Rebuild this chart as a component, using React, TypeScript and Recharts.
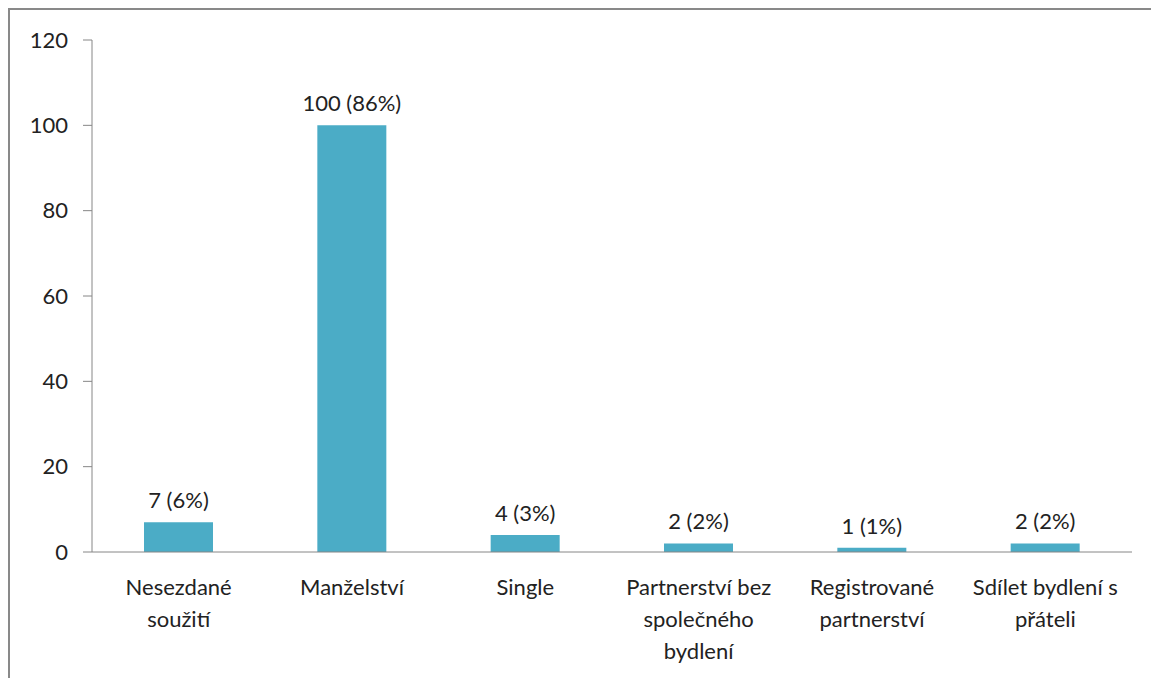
import { BarChart, Bar, XAxis, YAxis, LabelList } from 'recharts'

const categories = [
  'Nesezdané\nsoužití',
  'Manželství',
  'Single',
  'Partnerství bez\nspolečného\nbydlení',
  'Registrované\npartnerství',
  'Sdílet bydlení s\npřáteli',
]
const counts = [7, 100, 4, 2, 1, 2]
const percents = [6, 86, 3, 2, 1, 2]
const yTicks = [0, 20, 40, 60, 80, 100, 120]
const boundaryTicks = [0, 1, 2, 3, 4, 5, 6]

const data = categories.map((name, i) => ({
  name,
  count: counts[i],
  label: `${counts[i]} (${percents[i]}%)`,
}))

const FONT = 'Lato, "Noto Sans", sans-serif'
const TEXT = '#222222'
const AXIS = '#868686'
const FS = 22

function CategoryTick({ x, y, payload }: { x?: number; y?: number; payload?: { value: string } }) {
  const lines = (payload?.value ?? '').split('\n')
  return (
    <text x={x} y={y} textAnchor="middle" fill={TEXT} fontSize={FS} fontFamily={FONT}>
      {lines.map((line, i) => (
        <tspan key={i} x={x} dy={i === 0 ? 42 : 32}>
          {line}
        </tspan>
      ))}
    </text>
  )
}

export default function App() {
  return (
    <div
      style={{
        width: 1151,
        height: 670,
        borderTop: '2px solid #898989',
        borderLeft: '2px solid #898989',
        boxSizing: 'border-box',
        background: '#fff',
      }}
    >
      <BarChart
        width={1149}
        height={668}
        data={data}
        margin={{ top: 30, right: 27, left: 0, bottom: 0 }}
        barCategoryGap="30%"
      >
        {/* axis line with tick marks between the categories */}
        <XAxis
          xAxisId={0}
          type="number"
          domain={[0, 6]}
          ticks={boundaryTicks}
          allowDataOverflow
          tick={false}
          tickSize={9}
          height={1}
          stroke={AXIS}
        />
        <XAxis
          xAxisId="cat"
          dataKey="name"
          interval={0}
          axisLine={false}
          tickLine={false}
          tickSize={0}
          tickMargin={0}
          height={125}
          tick={<CategoryTick />}
        />
        <YAxis
          domain={[0, 120]}
          ticks={yTicks}
          width={82}
          tickSize={9}
          tickMargin={15}
          stroke={AXIS}
          tick={{ fill: TEXT, fontSize: FS, fontFamily: FONT }}
        />
        <Bar xAxisId="cat" dataKey="count" fill="#4BACC6" isAnimationActive={false}>
          <LabelList
            dataKey="label"
            position="top"
            offset={14}
            fill={TEXT}
            fontSize={FS}
            fontFamily={FONT}
          />
        </Bar>
      </BarChart>
    </div>
  )
}
